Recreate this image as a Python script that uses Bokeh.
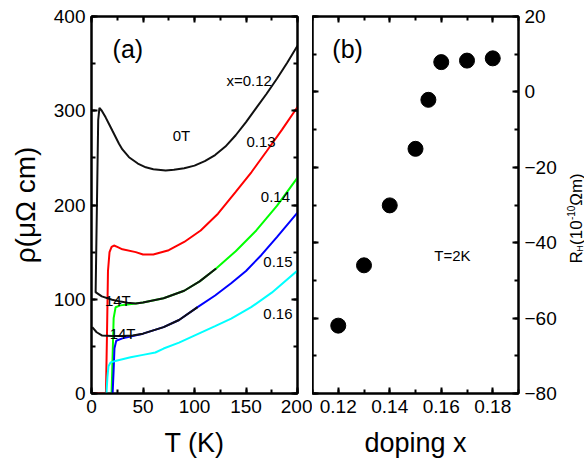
from bokeh.plotting import figure
from bokeh.layouts import row
from bokeh.models import Label, LinearAxis, FixedTicker, Range1d, CustomLabelingPolicy
from bokeh.embed import file_html
from bokeh.resources import INLINE

FONT = "Liberation Sans"

# ---------------- Panel (a): resistivity vs temperature ----------------
T_x012_0T = [4, 6.5, 7.7, 10, 13.7, 17, 20.2, 26.7, 30, 36.4, 45, 52.7, 60, 72, 80, 90, 100, 110, 120,
             130, 140, 150, 160, 170, 180, 190, 200]
rho_x012_0T = [107, 290, 303, 300, 293, 286, 279, 265, 259, 250.7, 244, 240, 238, 236.6, 237.3, 239, 241.8,
               246.5, 253, 262, 274, 288, 303, 318, 334, 351, 369]

T_x013 = [0, 14, 15, 16, 17.5, 19.5, 21.8, 25, 30, 43, 50, 60, 75, 90, 106, 122.8, 140, 155.4, 170, 185, 200]
rho_x013 = [0, 0, 60, 130, 150, 155.5, 157, 155.5, 153, 150, 147.5, 147.5, 152, 160.8, 173, 190.8, 214, 235,
            257, 280, 304]

T_x014 = [19.5, 20.5, 21.5, 23.4, 28, 35, 43, 50, 70, 90, 105, 121, 140, 160, 180, 200]
rho_x014 = [0, 40, 80, 91.5, 93.5, 94.5, 95.5, 96.5, 101, 109, 119, 132.6, 151, 173, 199, 229]

T_x014_14T = [3.9, 10, 20, 28, 35, 43, 50, 70, 90, 105, 121]
rho_x014_14T = [107.5, 103, 99.5, 97.5, 96.2, 95.5, 96.5, 101, 109, 119, 132.6]

T_x015 = [20.5, 21.5, 22.3, 24, 30, 40, 50, 70, 85, 103, 120, 135.6, 150, 165, 180, 200]
rho_x015 = [0, 25, 48, 56, 58.5, 61, 63.5, 70.4, 78, 91.6, 104, 117, 130, 147, 166, 192]

T_x015_14T = [0.7, 5, 10.4, 20, 30, 40, 50, 70, 85, 103]
rho_x015_14T = [70.4, 65, 61.5, 61, 61, 61.5, 63.5, 70.4, 78, 91.6]

T_x016 = [14.5, 15.5, 16.5, 18.5, 25, 38, 50, 62, 70, 85, 103, 120, 135.6, 155, 175, 200]
rho_x016 = [0, 18, 29, 33, 35, 38.5, 41, 43.5, 47.7, 54, 63, 71.5, 79.5, 91.6, 107, 130.5]

a_xticks = [0, 50, 100, 150, 200]
a_xminor = [0, 25, 50, 75, 100, 125, 150, 175, 200]
a_yticks = [0, 100, 200, 300, 400]
a_yminor = [0, 50, 100, 150, 200, 250, 300, 350, 400]

# ---------------- Panel (b): Hall coefficient vs doping ----------------
doping = [0.12, 0.13, 0.14, 0.15, 0.155, 0.16, 0.17, 0.18]
R_H = [-62, -46, -30.1, -15.1, -2.1, 7.9, 8.3, 8.9]

b_xticks = [0.12, 0.14, 0.16, 0.18]
b_xminor = [0.11, 0.12, 0.13, 0.14, 0.15, 0.16, 0.17, 0.18, 0.19]
b_yticks = [-80, -60, -40, -20, 0, 20]
b_yminor = [-80, -70, -60, -50, -40, -30, -20, -10, 0, 10, 20]


def style_axis(ax, labels=True):
    ax.axis_line_width = 2
    ax.axis_line_color = "black"
    ax.major_tick_in = 6
    ax.major_tick_out = 0
    ax.minor_tick_in = 4
    ax.minor_tick_out = 0
    ax.major_tick_line_width = 2
    ax.minor_tick_line_width = 2
    ax.major_tick_line_color = "black"
    ax.minor_tick_line_color = "black"
    ax.major_label_text_font = FONT
    ax.major_label_text_font_size = "19px"
    ax.major_label_text_color = "black"
    ax.axis_label_text_font = FONT
    ax.axis_label_text_font_size = "27px"
    ax.axis_label_text_font_style = "normal"
    ax.axis_label_text_color = "black"
    if labels:
        ax.major_label_standoff = 6
    else:
        ax.major_label_text_font_size = "0px"
        ax.major_label_standoff = 0
        ax.major_label_policy = CustomLabelingPolicy(
            code="for (const i of indices) { indices.unset(i) } return indices")


# ---------- figure (a) ----------
pa = figure(frame_width=206, frame_height=377,
            x_range=Range1d(0, 200), y_range=Range1d(0, 400),
            output_backend="svg", toolbar_location=None,
            min_border_left=91, min_border_right=15,
            min_border_top=16, min_border_bottom=67)
pa.xgrid.visible = False
pa.ygrid.visible = False
pa.outline_line_color = "black"
pa.outline_line_width = 2

pa.xaxis.ticker = FixedTicker(ticks=a_xticks, minor_ticks=a_xminor)
pa.yaxis.ticker = FixedTicker(ticks=a_yticks, minor_ticks=a_yminor)
pa.xaxis.axis_label = "T (K)"
pa.yaxis.axis_label = "ρ(μΩ cm)"
style_axis(pa.xaxis[0])
style_axis(pa.yaxis[0])
pa.yaxis.axis_label_text_font_size = "28px"
pa.xaxis.axis_label_standoff = 12
pa.yaxis.axis_label_standoff = 10

top_a = LinearAxis(ticker=FixedTicker(ticks=a_xticks, minor_ticks=a_xminor))
right_a = LinearAxis(ticker=FixedTicker(ticks=a_yticks, minor_ticks=a_yminor))
style_axis(top_a, labels=False)
style_axis(right_a, labels=False)
pa.add_layout(top_a, "above")
pa.add_layout(right_a, "right")

lw = 2
pa.line(T_x013, rho_x013, line_color="#ff0000", line_width=lw)
pa.line(T_x014, rho_x014, line_color="#00ff00", line_width=lw)
pa.line(T_x015, rho_x015, line_color="#0000ff", line_width=lw)
pa.line(T_x016, rho_x016, line_color="#00ffff", line_width=lw)
pa.line(T_x014_14T, rho_x014_14T, line_color="#111111", line_width=lw)
pa.line(T_x015_14T, rho_x015_14T, line_color="#111111", line_width=lw)
pa.line(T_x012_0T, rho_x012_0T, line_color="#111111", line_width=lw)


def add_text(p, x, y, txt, size, baseline="alphabetic", align="left"):
    p.add_layout(Label(x=x, y=y, text=txt, text_font=FONT,
                       text_font_size=size, text_color="black",
                       text_baseline=baseline, text_align=align))


add_text(pa, 20.5, 365, "(a)", "25px", baseline="middle")
add_text(pa, 131, 332.5, "x=0.12", "15px")
add_text(pa, 78.8, 273.6, "0T", "15px")
add_text(pa, 150.5, 266.5, "0.13", "15px")
add_text(pa, 164.4, 208.3, "0.14", "15px")
add_text(pa, 166.8, 139.6, "0.15", "15px")
add_text(pa, 166.8, 84.4, "0.16", "15px")
add_text(pa, 13, 98.4, "14T", "15px")
add_text(pa, 17.6, 63.2, "14T", "15px")

# ---------- figure (b) ----------
pb = figure(frame_width=206, frame_height=377,
            x_range=Range1d(0.11, 0.19), y_range=Range1d(-80, 20),
            y_axis_location="right",
            output_backend="svg", toolbar_location=None,
            min_border_left=0, min_border_right=44,
            min_border_top=16, min_border_bottom=67)
pb.xgrid.visible = False
pb.ygrid.visible = False
pb.outline_line_color = "black"
pb.outline_line_width = 2

pb.xaxis.ticker = FixedTicker(ticks=b_xticks, minor_ticks=b_xminor)
pb.yaxis.ticker = FixedTicker(ticks=b_yticks, minor_ticks=b_yminor)
pb.xaxis.axis_label = "doping x"
style_axis(pb.xaxis[0])
style_axis(pb.yaxis[0])
pb.xaxis.axis_label_standoff = 12

top_b = LinearAxis(ticker=FixedTicker(ticks=b_xticks, minor_ticks=b_xminor))
left_b = LinearAxis(ticker=FixedTicker(ticks=b_yticks, minor_ticks=b_yminor))
style_axis(top_b, labels=False)
style_axis(left_b, labels=False)
pb.add_layout(top_b, "above")
pb.add_layout(left_b, "left")

pb.scatter(doping, R_H, size=15, marker="circle", fill_color="black", line_color="black")

add_text(pb, 0.1177, 11.5, "(b)", "25px", baseline="middle")
add_text(pb, 0.1573, -43.4, "T=2K", "15px")

# ---------- narrow strip holding the right axis title R_H(10^-10 Ωm) ----------
pc = figure(frame_width=22, frame_height=377,
            x_range=Range1d(0, 22), y_range=Range1d(-80, 20),
            x_axis_type=None, y_axis_type=None,
            output_backend="svg", toolbar_location=None,
            min_border_left=0, min_border_right=0,
            min_border_top=16, min_border_bottom=67)
pc.outline_line_color = None

pieces = [("R", "17px", -45.5, 14), ("H", "9px", -42.4, 17),
          ("(10", "17px", -40.6, 14), ("-10", "10px", -34.0, 8),
          ("Ωm)", "17px", -30.2, 14)]
for txt, sz, yy, xx in pieces:
    pc.add_layout(Label(x=xx, y=yy, text=txt, angle=90,
                        angle_units="deg", text_font=FONT, text_font_size=sz,
                        text_color="black", text_baseline="alphabetic",
                        text_align="left"))

layout = row(pa, pb, pc)
open("out.html", "w").write(file_html(layout, INLINE))
